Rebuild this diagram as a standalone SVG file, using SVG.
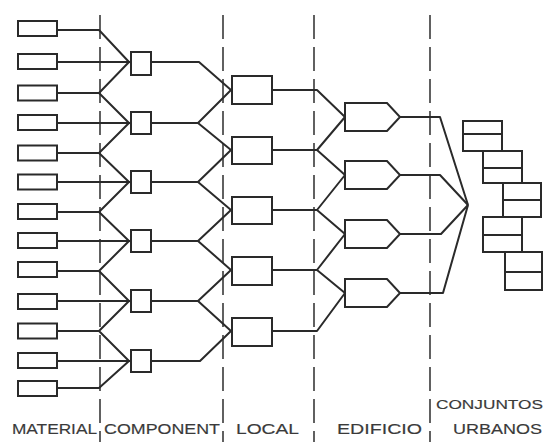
<svg xmlns="http://www.w3.org/2000/svg" width="545" height="442" viewBox="0 0 545 442">
  <style>
    .box { fill: #fff; stroke: #2a2a2a; stroke-width: 2; }
    .wire { fill: none; stroke: #2a2a2a; stroke-width: 2; stroke-linejoin: round; }
    .divider { fill: none; stroke: #3a3a3a; stroke-width: 1.6; stroke-dasharray: 24 8; }
    .lbl { font-family: "Liberation Sans", Arial, sans-serif; font-size: 14px; fill: #3a3a3a; stroke: #3a3a3a; stroke-width: 0.15; }
    .lbl-sm { font-family: "Liberation Sans", Arial, sans-serif; font-size: 12.5px; fill: #3a3a3a; stroke: #3a3a3a; stroke-width: 0.15; }
  </style>
  <rect width="545" height="442" fill="#fff"/>

  <!-- level dividers -->
  <g id="dividers">
    <line class="divider" x1="100" y1="15" x2="100" y2="442"/>
    <line class="divider" x1="223" y1="15" x2="223" y2="442"/>
    <line class="divider" x1="314" y1="15" x2="314" y2="442"/>
    <line class="divider" x1="430" y1="15" x2="430" y2="442"/>
  </g>

  <!-- connectors -->
  <g id="connectors" class="wire">
    <!-- material to component -->
    <path d="M57,30 H99 L129,62"/>
    <path d="M57,62 H131"/>
    <path d="M57,93 H99 L129,62 M99,93 L129,123"/>
    <path d="M57,123 H131"/>
    <path d="M57,153 H99 L129,123 M99,153 L129,182"/>
    <path d="M57,182 H131"/>
    <path d="M57,212 H99 L129,182 M99,212 L129,241"/>
    <path d="M57,241 H131"/>
    <path d="M57,271 H99 L129,241 M99,271 L129,301"/>
    <path d="M57,301 H131"/>
    <path d="M57,331 H99 L129,301 M99,331 L129,361"/>
    <path d="M57,361 H131"/>
    <path d="M57,388 H99 L129,361"/>
    <!-- component to local -->
    <path d="M151,62 H199 L231,90"/>
    <path d="M151,123 H198 L231,90 M198,123 L231,150"/>
    <path d="M151,182 H198 L231,150 M198,182 L231,210"/>
    <path d="M151,241 H198 L231,210 M198,241 L231,270"/>
    <path d="M151,301 H198 L231,270 M198,301 L231,331"/>
    <path d="M151,361 H200 L231,331"/>
    <!-- local to building -->
    <path d="M272,90 H317 L345,117"/>
    <path d="M272,150 H317 L345,117 M317,150 L345,175"/>
    <path d="M272,210 H317 L345,175 M317,210 L345,234"/>
    <path d="M272,270 H317 L345,234 M317,270 L345,293"/>
    <path d="M272,331 H317 L345,293"/>
    <!-- building to urban ensembles -->
    <path d="M400,117 H440 L468,205"/>
    <path d="M400,175 H440 L468,205"/>
    <path d="M400,234 H441 L468,205"/>
    <path d="M400,293 H443 L468,205"/>
  </g>

  <!-- materials -->
  <g id="material-1"><rect class="box" x="18" y="21" width="39" height="15"/></g>
  <g id="material-2"><rect class="box" x="18" y="54" width="39" height="15"/></g>
  <g id="material-3"><rect class="box" x="18" y="85.5" width="39" height="15"/></g>
  <g id="material-4"><rect class="box" x="18" y="115" width="39" height="15"/></g>
  <g id="material-5"><rect class="box" x="18" y="145.5" width="39" height="15"/></g>
  <g id="material-6"><rect class="box" x="18" y="174.5" width="39" height="15"/></g>
  <g id="material-7"><rect class="box" x="18" y="204" width="39" height="15"/></g>
  <g id="material-8"><rect class="box" x="18" y="233" width="39" height="15"/></g>
  <g id="material-9"><rect class="box" x="18" y="262" width="39" height="15"/></g>
  <g id="material-10"><rect class="box" x="18" y="294" width="39" height="15"/></g>
  <g id="material-11"><rect class="box" x="18" y="323.5" width="39" height="15"/></g>
  <g id="material-12"><rect class="box" x="18" y="353" width="39" height="15"/></g>
  <g id="material-13"><rect class="box" x="18" y="381" width="39" height="15"/></g>

  <!-- components -->
  <g id="component-1"><rect class="box" x="131" y="52" width="20" height="23"/></g>
  <g id="component-2"><rect class="box" x="131" y="112" width="20" height="22"/></g>
  <g id="component-3"><rect class="box" x="131" y="171" width="20" height="22"/></g>
  <g id="component-4"><rect class="box" x="131" y="230" width="20" height="22"/></g>
  <g id="component-5"><rect class="box" x="131" y="290" width="20" height="22"/></g>
  <g id="component-6"><rect class="box" x="131" y="350" width="20" height="22"/></g>

  <!-- rooms -->
  <g id="local-1"><rect class="box" x="232" y="76" width="40" height="28"/></g>
  <g id="local-2"><rect class="box" x="232" y="137" width="40" height="27"/></g>
  <g id="local-3"><rect class="box" x="232" y="197" width="40" height="27"/></g>
  <g id="local-4"><rect class="box" x="232" y="257" width="40" height="28"/></g>
  <g id="local-5"><rect class="box" x="232" y="318" width="40" height="28"/></g>

  <!-- buildings -->
  <g id="edificio-1"><polygon class="box" points="345,103 387,103 400,117 387,131 345,131"/></g>
  <g id="edificio-2"><polygon class="box" points="345,161 387,161 400,175 387,189 345,189"/></g>
  <g id="edificio-3"><polygon class="box" points="345,220 387,220 400,234 387,248 345,248"/></g>
  <g id="edificio-4"><polygon class="box" points="345,279 387,279 400,293 387,307 345,307"/></g>

  <!-- urban ensembles -->
  <g id="conjunto-1"><rect class="box" x="463" y="121" width="39" height="30"/><line class="wire" x1="463" y1="134" x2="502" y2="134"/></g>
  <g id="conjunto-2"><rect class="box" x="483" y="151" width="39" height="32"/><line class="wire" x1="483" y1="168" x2="522" y2="168"/></g>
  <g id="conjunto-3"><rect class="box" x="503" y="183" width="38" height="34"/><line class="wire" x1="503" y1="200" x2="541" y2="200"/></g>
  <g id="conjunto-4"><rect class="box" x="483" y="217" width="39" height="35"/><line class="wire" x1="483" y1="235" x2="522" y2="235"/></g>
  <g id="conjunto-5"><rect class="box" x="505" y="252" width="37" height="38"/><line class="wire" x1="505" y1="272" x2="542" y2="272"/></g>

  <!-- level names -->
  <g id="labels">
    <text class="lbl" x="12" y="434" textLength="85" lengthAdjust="spacingAndGlyphs">MATERIAL</text>
    <text class="lbl" x="104" y="434" textLength="116" lengthAdjust="spacingAndGlyphs">COMPONENT</text>
    <text class="lbl" x="236" y="434" textLength="63" lengthAdjust="spacingAndGlyphs">LOCAL</text>
    <text class="lbl" x="337" y="434" textLength="85" lengthAdjust="spacingAndGlyphs">EDIFICIO</text>
    <text class="lbl-sm" x="436" y="409" textLength="107" lengthAdjust="spacingAndGlyphs">CONJUNTOS</text>
    <text class="lbl" x="453" y="434" textLength="89" lengthAdjust="spacingAndGlyphs">URBANOS</text>
  </g>
</svg>
